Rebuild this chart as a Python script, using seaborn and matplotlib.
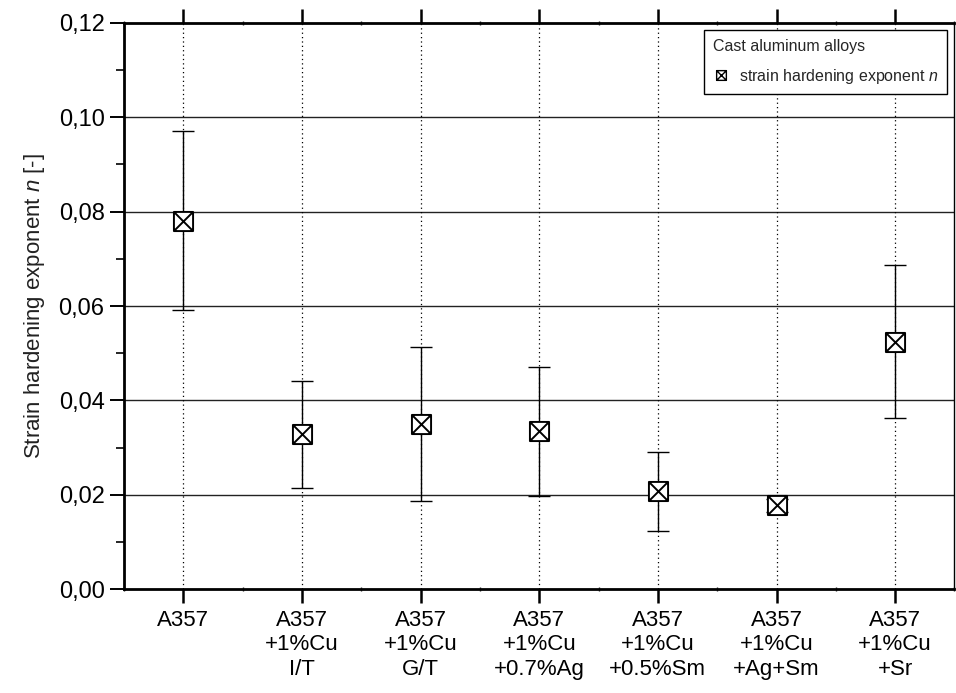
import numpy as np
import pandas as pd
import matplotlib
matplotlib.use("Agg")
import matplotlib.pyplot as plt
import seaborn as sns
from matplotlib.path import Path
from matplotlib.lines import Line2D
from matplotlib.ticker import FixedLocator, MultipleLocator, FuncFormatter

# ---- data ----
categories = ["A357", "A357\n+1%Cu\nI/T", "A357\n+1%Cu\nG/T", "A357\n+1%Cu\n+0.7%Ag",
              "A357\n+1%Cu\n+0.5%Sm", "A357\n+1%Cu\n+Ag+Sm", "A357\n+1%Cu\n+Sr"]
n_mean = [0.0781, 0.0328, 0.0350, 0.0335, 0.0209, 0.0178, 0.0524]
n_upper = [0.0971, 0.0441, 0.0514, 0.0471, 0.0291, 0.0192, 0.0687]
n_lower = [0.0592, 0.0214, 0.0187, 0.0198, 0.0123, 0.0164, 0.0362]
y_ticks = [0.00, 0.02, 0.04, 0.06, 0.08, 0.10, 0.12]

df = pd.DataFrame({"cat": categories, "n": n_mean, "hi": n_upper, "lo": n_lower})
df["x"] = np.arange(len(df))

sns.set_style("white")
plt.rcParams["font.family"] = ["Liberation Sans", "DejaVu Sans"]
plt.rcParams["mathtext.fontset"] = "custom"
plt.rcParams["mathtext.it"] = "Liberation Sans:italic"
plt.rcParams["mathtext.rm"] = "Liberation Sans"

fig = plt.figure(figsize=(9.56, 6.93), dpi=100)
ax = fig.add_axes([0.1297, 0.1496, 0.9984 - 0.1297, 0.9672 - 0.1496])

# custom marker: square with X
verts = [(-1, -1), (1, -1), (1, 1), (-1, 1), (-1, -1),
         (-1, -1), (1, 1), (-1, 1), (1, -1)]
codes = [Path.MOVETO, Path.LINETO, Path.LINETO, Path.LINETO, Path.CLOSEPOLY,
         Path.MOVETO, Path.LINETO, Path.MOVETO, Path.LINETO]
sqx = Path(verts, codes)

# grid
for yv in y_ticks[1:-1]:
    ax.axhline(yv, color="#222222", lw=1.0, zorder=1)
for xv in df["x"]:
    ax.axvline(xv, color="black", lw=0.9, ls=(0, (1, 2.5)), zorder=1)

yerr = np.array([df["n"] - df["lo"], df["hi"] - df["n"]])
ax.errorbar(df["x"], df["n"], yerr=yerr, fmt="none", ecolor="black",
            elinewidth=1.0, capsize=8, capthick=1.0, zorder=2)
sns.scatterplot(data=df, x="x", y="n", marker=sqx, s=190, color="white",
                edgecolor="black", linewidth=1.4, ax=ax, zorder=3, legend=False)

ax.set_xlim(-0.5, 6.5)
ax.set_ylim(0, 0.12)
ax.xaxis.set_major_locator(FixedLocator(df["x"].tolist()))
ax.set_xticklabels(categories)
ax.xaxis.set_minor_locator(FixedLocator(list(np.arange(-0.5, 7, 1.0))))
ax.yaxis.set_major_locator(FixedLocator(y_ticks))
ax.yaxis.set_minor_locator(MultipleLocator(0.01))
ax.yaxis.set_major_formatter(FuncFormatter(lambda v, p: f"{v:.2f}".replace(".", ",")))

for s in ["left", "bottom", "top"]:
    ax.spines[s].set_linewidth(2.0)
    ax.spines[s].set_color("black")
ax.spines["right"].set_linewidth(1.0)
ax.spines["right"].set_color("black")

ax.tick_params(axis="y", which="major", direction="out", length=10, width=1.4,
               labelsize=17, left=True, right=False, pad=4, colors="black")
ax.tick_params(axis="y", which="minor", direction="out", length=6, width=1.4, left=True)
ax.tick_params(axis="x", which="major", direction="out", length=10, width=1.8,
               labelsize=16, bottom=True, top=True, pad=5, colors="black")
ax.tick_params(axis="x", which="minor", direction="inout", length=3, width=1.0,
               bottom=True, top=True)
for lbl in ax.get_xticklabels():
    lbl.set_linespacing(1.2)

ax.set_xlabel("")
ax.set_ylabel("Strain hardening exponent $n$ [-]", fontsize=16, labelpad=8, color="#222222")

handle = Line2D([], [], marker=sqx, markersize=7, markerfacecolor="white",
                markeredgecolor="black", markeredgewidth=1.0, linestyle="none")
leg = ax.legend([handle], ["strain hardening exponent $n$"], title="Cast aluminum alloys",
                loc="upper right", bbox_to_anchor=(0.9915, 0.987), fontsize=11.5,
                title_fontsize=11.5, frameon=True, fancybox=False, framealpha=1,
                edgecolor="black", borderpad=0.55, labelspacing=0.8,
                handlelength=1.1, handletextpad=0.55, borderaxespad=0)
leg._legend_box.align = "left"
leg.get_frame().set_linewidth(1.0)

fig.savefig("out.png", dpi=100)
